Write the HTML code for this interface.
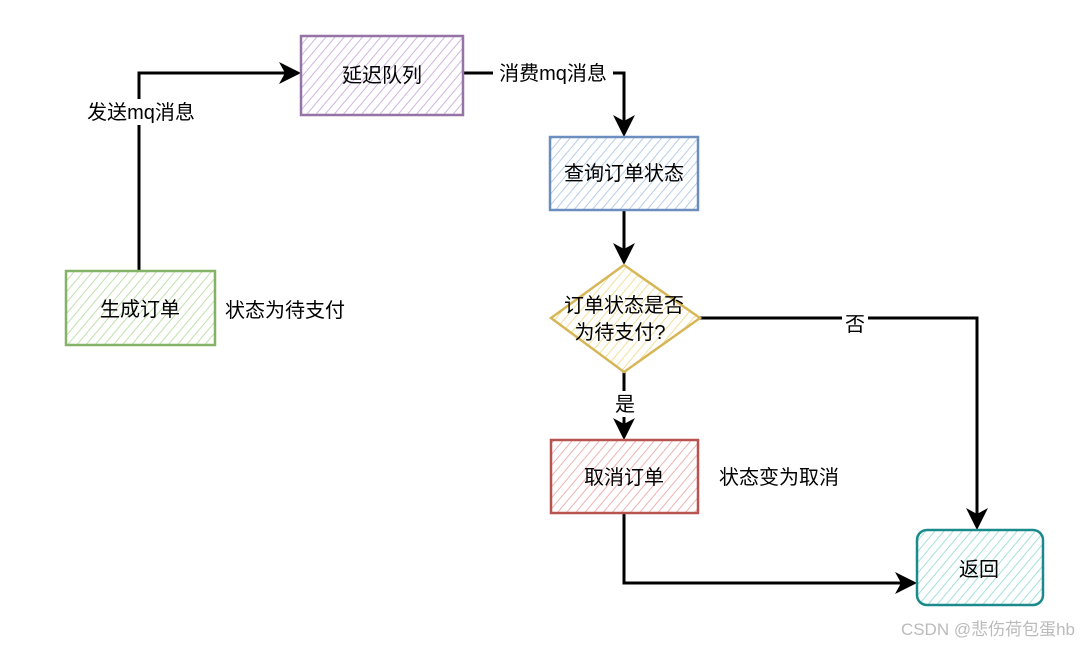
<!DOCTYPE html>
<html><head><meta charset="utf-8"><style>
html,body{margin:0;padding:0;background:#fff;width:1080px;height:645px;overflow:hidden}
text{font-family:"Liberation Sans","Noto Sans CJK SC",sans-serif;font-size:20px;fill:#000}
</style></head><body>
<svg width="1080" height="645" xmlns="http://www.w3.org/2000/svg">
<defs>
<pattern id="hp" width="7" height="7" patternUnits="userSpaceOnUse" patternTransform="rotate(40)"><line x1="0" y1="0" x2="0" y2="7" stroke="#cfb6e0" stroke-width="2"/></pattern>
<pattern id="hg" width="7" height="7" patternUnits="userSpaceOnUse" patternTransform="rotate(40)"><line x1="0" y1="0" x2="0" y2="7" stroke="#c2e0ae" stroke-width="2"/></pattern>
<pattern id="hb" width="7" height="7" patternUnits="userSpaceOnUse" patternTransform="rotate(40)"><line x1="0" y1="0" x2="0" y2="7" stroke="#b8cdea" stroke-width="2"/></pattern>
<pattern id="hy" width="7" height="7" patternUnits="userSpaceOnUse" patternTransform="rotate(40)"><line x1="0" y1="0" x2="0" y2="7" stroke="#f3df9c" stroke-width="2"/></pattern>
<pattern id="hr" width="7" height="7" patternUnits="userSpaceOnUse" patternTransform="rotate(40)"><line x1="0" y1="0" x2="0" y2="7" stroke="#efb3b3" stroke-width="2"/></pattern>
<pattern id="ht" width="7" height="7" patternUnits="userSpaceOnUse" patternTransform="rotate(40)"><line x1="0" y1="0" x2="0" y2="7" stroke="#a5e0de" stroke-width="2"/></pattern>
</defs>
<g stroke="#000" stroke-width="3" fill="none">
<polyline points="139,270 139,73 285,73"/>
<polyline points="463,73 624,73 624,122"/>
<polyline points="624,210 624,250"/>
<polyline points="700,318 977,318 977,515"/>
<polyline points="624,372 624,425"/>
<polyline points="624,513 624,583 902,583"/>
</g>
<g fill="#000">
<path d="M301,73 L279,62 L285,73 L279,84 Z"/>
<path d="M624,137 L613,115 L624,121 L635,115 Z"/>
<path d="M624,265 L613,243 L624,249 L635,243 Z"/>
<path d="M624,440 L613,418 L624,424 L635,418 Z"/>
<path d="M977,530 L966,508 L977,514 L988,508 Z"/>
<path d="M917,583 L895,572 L901,583 L895,594 Z"/>
</g>
<rect x="301" y="36" width="162" height="79" fill="url(#hp)" stroke="#9673a6" stroke-width="2.5"/>
<rect x="66" y="271" width="149" height="74" fill="url(#hg)" stroke="#82b366" stroke-width="2.5"/>
<rect x="550" y="137" width="148" height="73" fill="url(#hb)" stroke="#6c8ebf" stroke-width="2.5"/>
<polygon points="624,265 700,318 624,372 551,318" fill="url(#hy)" stroke="#d6b656" stroke-width="2.5"/>
<rect x="551" y="440" width="147" height="73" fill="url(#hr)" stroke="#b85450" stroke-width="2.5"/>
<rect x="917" y="530" width="126" height="75" rx="10" fill="url(#ht)" stroke="#1a8a8a" stroke-width="2.5"/>
<rect x="82" y="99" width="116" height="26" fill="#fff"/>
<rect x="493" y="61" width="120" height="26" fill="#fff"/>
<rect x="842" y="310" width="26" height="26" fill="#fff"/>
<rect x="612" y="391" width="26" height="26" fill="#fff"/>
<text x="141" y="119" text-anchor="middle">发送mq消息</text>
<text x="553" y="80" text-anchor="middle">消费mq消息</text>
<text x="382" y="82" text-anchor="middle">延迟队列</text>
<text x="140" y="316" text-anchor="middle">生成订单</text>
<text x="225" y="317">状态为待支付</text>
<text x="624" y="180" text-anchor="middle">查询订单状态</text>
<text x="624" y="312" text-anchor="middle">订单状态是否</text>
<text x="620" y="339" text-anchor="middle">为待支付?</text>
<text x="855" y="331" text-anchor="middle">否</text>
<text x="625" y="411" text-anchor="middle">是</text>
<text x="624" y="484" text-anchor="middle">取消订单</text>
<text x="719" y="484">状态变为取消</text>
<text x="979" y="576" text-anchor="middle">返回</text>
<text x="1075" y="635" text-anchor="end" style="font-size:17px;fill:#bbb">CSDN @悲伤荷包蛋hb</text>
</svg>
</body></html>
